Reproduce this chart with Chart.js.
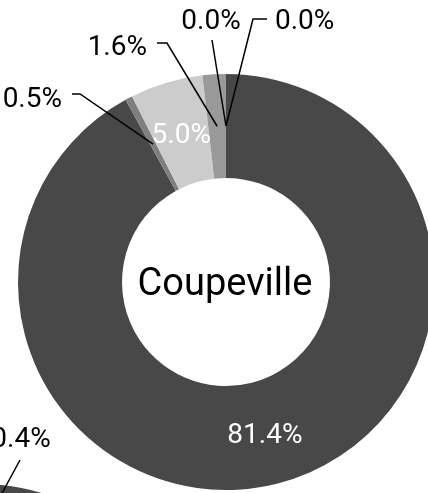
<!DOCTYPE html>
<html>
<head>
<meta charset="utf-8">
<title>Coupeville</title>
<script src="https://cdn.jsdelivr.net/npm/chart.js@4.4.1/dist/chart.umd.min.js"></script>
<style>
    html, body {
        margin: 0;
        padding: 0;
        width: 428px;
        height: 493px;
        overflow: hidden;
        background: #ffffff;
    }
    canvas {
        position: absolute;
    }
    #mainChart { left: -74px; top: -18px; }
    #nextChart { left: -319px; top: 392px; }
</style>
</head>
<body>
<canvas id="mainChart" width="600" height="600"></canvas>
<canvas id="nextChart" width="600" height="600"></canvas>
<script>
// Shares by group (percent)
const categories = ['Group A', 'Group B', 'Group C', 'Group D', 'Group E', 'Group F'];
const coupevilleValues = [81.4, 0.5, 5.0, 1.6, 0.0, 0.0];
const nextValues = [84.6, 0.4];
const centerTitle = 'Coupeville';

const sliceColors = ['#484848', '#7f7f7f', '#cccccc', '#999999', '#b3b3b3', '#666666'];
const labelFont = '28px Roboto';
const titleFont = '38px Roboto';

// Callout layout for the small slices, offsets from the ring centre.
// elbow = where the leader bends, tail = end of the short horizontal stub
const mainCallouts = [
    null,
    { elbow: [-146, -188], tail: [-154, -188], text: [-164, -185], align: 'right' },
    null,
    { elbow: [-59, -239], tail: [-69, -239], text: [-79, -237], align: 'right' },
    { elbow: [-14, -242], tail: null, text: [-15, -263], align: 'center' },
    { elbow: [27, -263], tail: [41, -263], text: [49, -263], align: 'left' }
];
const nextCallouts = [
    null,
    { elbow: [39, -232], tail: null, text: [40, -255], align: 'center' }
];

// draws the percent labels: inside the ring for big slices, with leader lines for the rest
const calloutPlugin = {
    id: 'callouts',
    afterDatasetsDraw(chart, args, opts) {
        const ctx = chart.ctx;
        const meta = chart.getDatasetMeta(0);
        const values = chart.data.datasets[0].data;
        const cx = meta.data[0].x;
        const cy = meta.data[0].y;
        const capShift = 10;

        ctx.save();
        ctx.font = labelFont;
        ctx.textBaseline = 'alphabetic';
        meta.data.forEach((arc, i) => {
            const text = values[i].toFixed(1) + '%';
            const pos = arc.tooltipPosition();
            const spot = opts.spots[i];
            if (!spot) {
                ctx.fillStyle = '#ffffff';
                ctx.textAlign = 'center';
                ctx.fillText(text, pos.x, pos.y + capShift);
                return;
            }
            ctx.strokeStyle = '#000000';
            ctx.lineWidth = 1.5;
            ctx.beginPath();
            ctx.moveTo(pos.x, pos.y);
            ctx.lineTo(cx + spot.elbow[0], cy + spot.elbow[1]);
            if (spot.tail) ctx.lineTo(cx + spot.tail[0], cy + spot.tail[1]);
            ctx.stroke();

            ctx.fillStyle = '#000000';
            ctx.textAlign = spot.align;
            ctx.fillText(text, cx + spot.text[0], cy + spot.text[1] + capShift);
        });
        ctx.restore();
    }
};

const centerTextPlugin = {
    id: 'centerText',
    afterDraw(chart, args, opts) {
        if (!opts.text) return;
        const arc = chart.getDatasetMeta(0).data[0];
        const ctx = chart.ctx;
        ctx.save();
        ctx.font = titleFont;
        ctx.fillStyle = '#000000';
        ctx.textAlign = 'center';
        ctx.textBaseline = 'alphabetic';
        ctx.fillText(opts.text, arc.x - 1, arc.y + 13);
        ctx.restore();
    }
};

function makeDoughnut(canvasId, values, spots, title) {
    const ctx = document.getElementById(canvasId).getContext('2d');
    return new Chart(ctx, {
        type: 'doughnut',
        data: {
            labels: categories.slice(0, values.length),
            datasets: [{
                data: values,
                backgroundColor: sliceColors.slice(0, values.length),
                borderWidth: 0
            }]
        },
        options: {
            responsive: false,
            animation: false,
            cutout: '50%',
            layout: { padding: 92 },
            plugins: {
                legend: { display: false },
                tooltip: { enabled: false },
                callouts: { spots: spots },
                centerText: { text: title }
            }
        },
        plugins: [calloutPlugin, centerTextPlugin]
    });
}

function drawCharts() {
    makeDoughnut('mainChart', coupevilleValues, mainCallouts, centerTitle);
    makeDoughnut('nextChart', nextValues, nextCallouts, '');
}

document.fonts.load(titleFont).then(drawCharts, drawCharts);
</script>
</body>
</html>
